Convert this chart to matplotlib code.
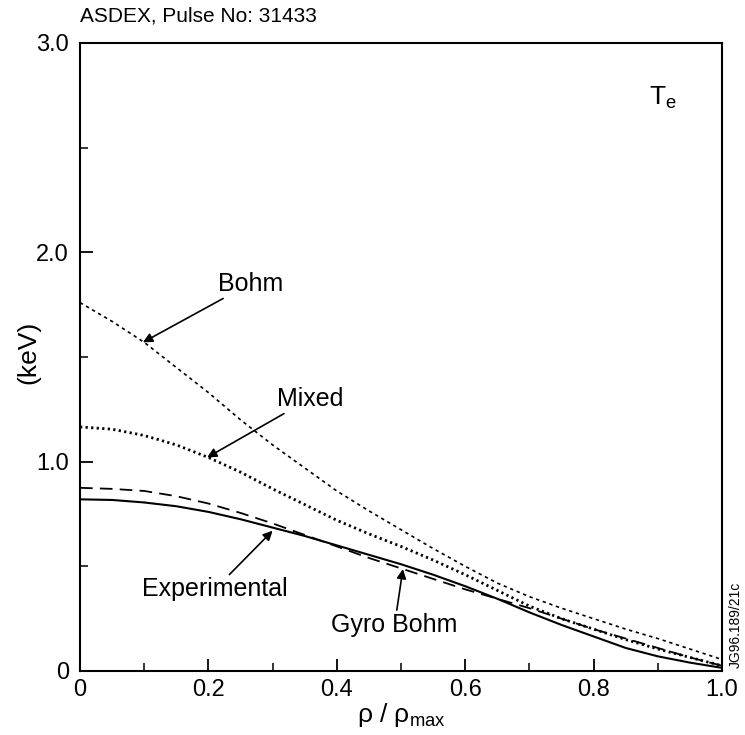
import matplotlib
matplotlib.use("Agg")
import matplotlib.pyplot as plt
from matplotlib.ticker import MultipleLocator

plt.rcParams['font.family'] = ['Liberation Sans', 'DejaVu Sans']
plt.rcParams['mathtext.fontset'] = 'custom'
plt.rcParams['mathtext.rm'] = 'Liberation Sans'
plt.rcParams['mathtext.it'] = 'Liberation Sans'

# ---- data ----
rho = [0.0, 0.05, 0.1, 0.15, 0.2, 0.25, 0.3, 0.35, 0.4, 0.45, 0.5,
       0.55, 0.6, 0.65, 0.7, 0.75, 0.8, 0.85, 0.9, 0.95, 1.0]
te_bohm = [1.76, 1.67, 1.57, 1.45, 1.33, 1.20, 1.08, 0.97, 0.86, 0.765, 0.675,
           0.585, 0.50, 0.42, 0.355, 0.30, 0.25, 0.20, 0.155, 0.105, 0.055]
te_mixed = [1.166, 1.155, 1.125, 1.08, 1.02, 0.95, 0.87, 0.795, 0.72, 0.655, 0.595,
            0.53, 0.46, 0.385, 0.31, 0.25, 0.20, 0.15, 0.105, 0.065, 0.025]
te_gyro = [0.875, 0.87, 0.86, 0.835, 0.80, 0.755, 0.705, 0.65, 0.595, 0.54, 0.49,
           0.44, 0.39, 0.345, 0.30, 0.25, 0.20, 0.155, 0.11, 0.065, 0.025]
te_exp = [0.82, 0.817, 0.805, 0.787, 0.76, 0.725, 0.685, 0.645, 0.60, 0.555, 0.51,
          0.46, 0.405, 0.345, 0.28, 0.22, 0.165, 0.11, 0.07, 0.04, 0.015]

xticks = [0, 0.2, 0.4, 0.6, 0.8, 1.0]
xticklabels = ['0', '0.2', '0.4', '0.6', '0.8', '1.0']
yticks = [0, 1, 2, 3]
yticklabels = ['0', '1.0', '2.0', '3.0']

# ---- figure ----
fig = plt.figure(figsize=(7.45, 7.35), dpi=100)
ax = fig.add_axes([0.1074, 0.0871, 0.8617, 0.8544])

ax.plot(rho, te_bohm, color='black', lw=1.2, linestyle=(0, (2.0, 2.2)))
ax.plot(rho, te_mixed, color='black', lw=2.0, linestyle=(0, (0.8, 1.2)))
ax.plot(rho, te_gyro, color='black', lw=1.3, linestyle=(0, (7, 4)))
ax.plot(rho, te_exp, color='black', lw=1.5)

ax.set_xlim(0, 1)
ax.set_ylim(0, 3)
ax.set_xticks(xticks)
ax.set_xticklabels(xticklabels)
ax.set_yticks(yticks)
ax.set_yticklabels(yticklabels)
ax.xaxis.set_minor_locator(MultipleLocator(0.1))
ax.yaxis.set_minor_locator(MultipleLocator(0.5))
ax.tick_params(which='major', direction='in', length=9, width=1.3, labelsize=17)
ax.tick_params(axis='x', which='major', pad=6)
ax.tick_params(axis='y', which='major', pad=8)
ax.tick_params(which='minor', direction='in', length=5.5, width=1.1)
ax.tick_params(top=False, right=False)
for s in ax.spines.values():
    s.set_linewidth(1.5)

ax.set_xlabel(r'$\mathrm{\rho}$ / $\mathrm{\rho_{max}}$', fontsize=19, labelpad=0)
ax.set_ylabel('(keV)', fontsize=19)
ax.yaxis.set_label_coords(-0.061, 0.508)
fig.text(0.1074, 0.965, 'ASDEX, Pulse No: 31433', fontsize=15, ha='left', va='bottom')
ax.text(0.908, 2.74, r'$\mathrm{T_e}$', fontsize=19, ha='center', va='center')

arrow = dict(arrowstyle='-|>', color='black', lw=1.2, mutation_scale=14, shrinkA=0, shrinkB=0)
ax.annotate('Bohm', xy=(0.098, 1.57), xytext=(0.265, 1.85), fontsize=18,
            ha='center', va='center', arrowprops=arrow)
ax.annotate('Mixed', xy=(0.198, 1.02), xytext=(0.358, 1.30), fontsize=18,
            ha='center', va='center', arrowprops=arrow)
ax.annotate('Experimental', xy=(0.30, 0.67), xytext=(0.21, 0.39), fontsize=18,
            ha='center', va='center', arrowprops=arrow)
ax.annotate('Gyro Bohm', xy=(0.503, 0.487), xytext=(0.49, 0.22), fontsize=18,
            ha='center', va='center', arrowprops=arrow)

fig.text(0.987, 0.15, 'JG96.189/21c', fontsize=10, rotation=90, ha='center', va='center')

fig.savefig('out.png', dpi=100)
